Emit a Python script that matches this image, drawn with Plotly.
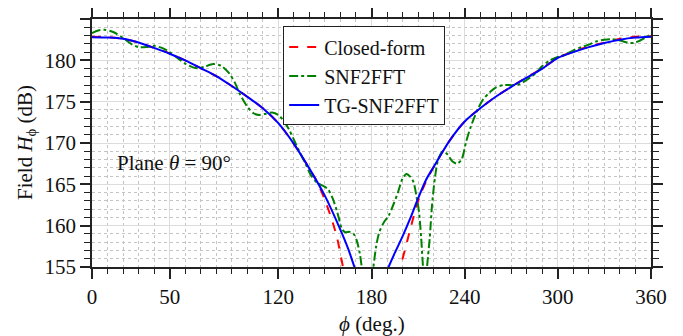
import plotly.graph_objects as go

# ---- data ----
phi_closed = [0, 10, 20, 30, 40, 50, 60, 70, 80, 90, 100, 110, 120, 130, 140, 145, 150, 155, 158, 161, 163,
              None,
              197, 199, 202, 205, 208, 211, 215, 220, 230, 240, 250, 260, 270, 280, 290, 300, 310, 320, 330, 340, 350, 360]
h_closed = [182.85, 182.8, 182.6, 182.15, 181.5, 180.85, 180.0, 179.05, 178.1, 176.9, 175.6, 174.2, 172.4, 169.9, 166.9, 165.3, 163.1, 160.4, 158.4, 155.6, 153.8,
            None,
            153.8, 155.3, 157.4, 159.6, 161.7, 163.5, 165.3, 167.1, 170.2, 172.6, 174.2, 175.6, 176.8, 177.95, 179.05, 180.3, 181.05, 181.65, 182.15, 182.6, 182.85, 182.9]

phi_snf = [0, 4, 8, 14, 20, 26, 30, 35, 40, 45, 50, 55, 60, 65, 68, 72, 78, 83, 88, 92, 95, 100, 104, 108, 112, 116, 120, 123, 127, 130, 134, 137, 141, 145, 149, 152, 155, 158, 161, 163, 166, 168.5, 170.5, 172.5, 174, 175,
           180, 181.2, 183, 185, 188, 191, 194, 197, 200, 202.5, 205, 207, 209, 210.5, 212, 213, 214, 215, 216, 217.5, 219, 221, 223, 226, 229, 232, 235, 238, 241, 244, 248, 252, 256, 260, 265, 270, 274, 278, 282, 286, 290, 295, 300, 305, 310, 315, 320, 325, 330, 335, 340, 345, 349, 353, 357, 360]
h_snf = [183.3, 183.6, 183.7, 183.4, 182.7, 181.9, 181.6, 181.6, 181.75, 181.5, 181.0, 180.3, 179.6, 179.15, 179.05, 179.2, 179.55, 179.35, 178.5, 177.3, 176.0, 174.4, 173.6, 173.4, 173.55, 173.7, 173.4, 172.8, 171.6, 170.4, 168.8, 167.7, 166.1, 165.2, 164.8, 164.4, 163.3, 161.6, 159.6, 159.2, 159.25, 159.0, 158.2, 156.6, 154.6, 153.3,
         153.3, 155.0, 157.5, 159.2, 160.4, 161.2, 162.5, 164.0, 165.7, 166.25, 165.9, 165.3, 163.5, 161.8, 158.5, 155.5, 153.6, 153.6, 155.5, 158.5, 162.5, 166.0, 168.0, 169.0, 168.6, 167.8, 167.5, 168.0, 170.2, 172.0, 173.9, 175.3, 176.1, 176.7, 177.0, 177.0, 177.0, 177.4, 177.9, 178.5, 179.3, 180.0, 180.4, 180.7, 181.2, 181.6, 181.9, 182.3, 182.5, 182.55, 182.4, 182.15, 182.1, 182.4, 182.8, 183.2]

phi_tg = [0, 10, 20, 30, 40, 50, 60, 70, 80, 90, 100, 110, 120, 130, 140, 150, 160, 165, 169, 172,
          None,
          188, 191, 195, 200, 205, 210, 215, 220, 230, 240, 250, 260, 270, 280, 290, 300, 310, 320, 330, 340, 350, 360]
h_tg = [182.8, 182.75, 182.6, 182.15, 181.5, 180.8, 180.0, 179.05, 178.1, 176.9, 175.6, 174.2, 172.4, 169.9, 166.9, 163.6, 159.5, 157.2, 155.0, 153.4,
        None,
        153.6, 155.0, 156.7, 158.7, 160.9, 163.3, 165.5, 167.1, 170.2, 172.6, 174.2, 175.6, 176.8, 177.9, 179.0, 180.3, 181.0, 181.6, 182.1, 182.5, 182.75, 182.85]

x_tickvals = [0, 50, 120, 180, 240, 300, 360]
x_ticktext = ["0", "50", "120", "180", "240", "300", "360"]
y_tickvals = [155, 160, 165, 170, 175, 180, 185]

FONT = "Liberation Serif, Times New Roman, serif"
FS = 21

fig = go.Figure()
fig.add_trace(go.Scatter(x=phi_closed, y=h_closed, mode="lines", name="Closed-form",
                         line=dict(color="#ff0000", width=2, dash="dash", shape="spline", smoothing=0.8),
                         connectgaps=False))
fig.add_trace(go.Scatter(x=phi_snf, y=h_snf, mode="lines", name="SNF2FFT",
                         line=dict(color="#008000", width=2, dash="dashdot", shape="spline", smoothing=0.8),
                         connectgaps=False))
fig.add_trace(go.Scatter(x=phi_tg, y=h_tg, mode="lines", name="TG-SNF2FFT",
                         line=dict(color="#0000ff", width=2, shape="spline", smoothing=0.8),
                         connectgaps=False))

axis_common = dict(
    showline=True, linecolor="#222222", linewidth=1.5, mirror="allticks",
    ticks="outside", ticklen=10, tickwidth=1.5, tickcolor="#222222",
    showgrid=True, gridcolor="#dcdcdc", gridwidth=1,
    zeroline=False, automargin=False,
    tickfont=dict(family=FONT, size=FS, color="#111111"),
)

fig.update_xaxes(
    **axis_common,
    range=[0, 360],
    tickmode="array", tickvals=x_tickvals, ticktext=x_ticktext,
    minor=dict(tickmode="linear", tick0=0, dtick=10, ticklen=5, tickwidth=1.2, tickcolor="#222222",
               showgrid=True, gridcolor="#c4c4c4", griddash="dot", gridwidth=1),
)
fig.update_yaxes(
    **axis_common,
    range=[155, 185],
    tickmode="array", tickvals=y_tickvals,
    minor=dict(tickmode="linear", tick0=155, dtick=1, ticklen=6, tickwidth=1.2, tickcolor="#222222",
               showgrid=True, gridcolor="#c4c4c4", griddash="dot", gridwidth=1),
)

# axis titles
fig.add_annotation(x=0.5, y=-0.228, xref="paper", yref="paper", text="<i>ϕ</i> (deg.)",
                   showarrow=False, xanchor="center", yanchor="middle",
                   font=dict(family=FONT, size=FS, color="#111111"))
fig.add_annotation(x=-0.118, y=0.5, xref="paper", yref="paper", text="Field <i>H</i><sub>ϕ</sub> (dB)",
                   showarrow=False, xanchor="center", yanchor="middle", textangle=-90,
                   font=dict(family=FONT, size=FS, color="#111111"))

fig.add_annotation(x=15, y=167.6, xref="x", yref="y", text="Plane <i>θ</i> = 90°",
                   showarrow=False, xanchor="left", yanchor="middle",
                   font=dict(family=FONT, size=FS, color="#111111"))

fig.update_layout(
    width=675, height=328,
    margin=dict(l=84, r=32, t=11, b=69, autoexpand=False),
    paper_bgcolor="white", plot_bgcolor="white",
    showlegend=True,
    legend=dict(x=0.342, y=0.97, xanchor="left", yanchor="top",
                bgcolor="white", bordercolor="#222222", borderwidth=1,
                font=dict(family=FONT, size=20, color="#111111"),
                tracegroupgap=0, itemwidth=30),
    font=dict(family=FONT),
)

fig.write_html("out.html")
